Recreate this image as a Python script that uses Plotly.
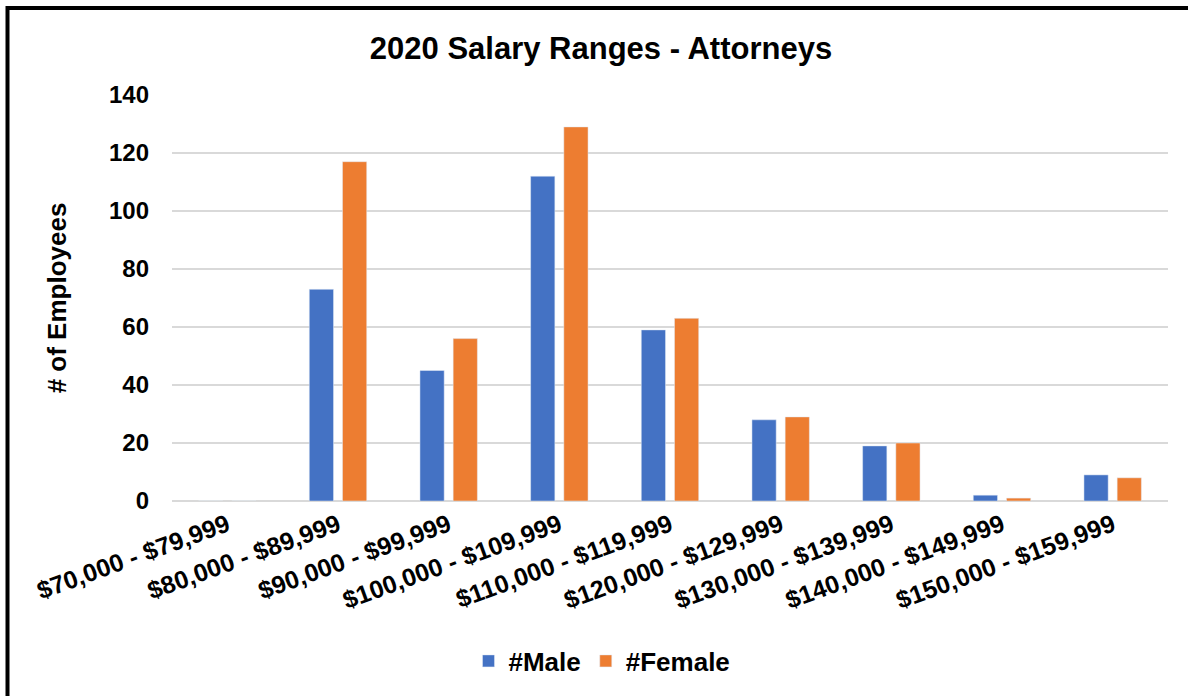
import plotly.graph_objects as go

categories = ["$70,000 - $79,999", "$80,000 - $89,999", "$90,000 - $99,999",
              "$100,000 - $109,999", "$110,000 - $119,999", "$120,000 - $129,999",
              "$130,000 - $139,999", "$140,000 - $149,999", "$150,000 - $159,999"]
male = [0, 73, 45, 112, 59, 28, 19, 2, 9]
female = [0, 117, 56, 129, 63, 29, 20, 1, 8]

W, H = 1188, 696
L, R, T, B = 172, 20, 95, 195
pw, ph = W - L - R, H - T - B

def px(x):
    return (x - L) / pw

def py(y):
    return (H - B - y) / ph

font = "Liberation Sans, Arial, sans-serif"
bold = dict(family=font, weight="bold", color="black")

fig = go.Figure()
fig.add_trace(go.Bar(x=categories, y=male, name="#Male", marker_color="#4472C4"))
fig.add_trace(go.Bar(x=categories, y=female, name="#Female", marker_color="#ED7D31"))

fig.update_layout(
    width=W, height=H,
    margin=dict(l=L, r=R, t=T, b=B),
    paper_bgcolor="white", plot_bgcolor="white",
    barmode="group", bargap=0.40, bargroupgap=0.27,
    font=dict(family=font, color="black"),
    title=dict(text="2020 Salary Ranges - Attorneys", x=601 / W, xanchor="center",
               xref="container", y=1 - 48 / H, yref="container", yanchor="middle",
               font=dict(size=31, **bold)),
    legend=dict(orientation="h", x=px(602), xanchor="center",
                y=py(661), yanchor="middle",
                font=dict(size=26, **bold), traceorder="normal"),
    showlegend=True,
)
fig.update_yaxes(range=[0, 140], dtick=20, showgrid=True, gridcolor="#d9d9d9", gridwidth=2,
                 zeroline=True, zerolinecolor="#d9d9d9", zerolinewidth=2,
                 showline=False, ticks="", ticklabelstandoff=22,
                 tickfont=dict(size=24, **bold),
                 title=dict(text="# of Employees", font=dict(size=26, **bold), standoff=34))
fig.update_xaxes(tickangle=-20, tickfont=dict(size=25, **bold), showline=False, ticks="",
                 ticklabelstandoff=4)

# outer frame (top and left edges visible)
fig.add_shape(type="line", xref="paper", yref="paper", x0=px(6), x1=px(W + 5), y0=py(8), y1=py(8),
              line=dict(color="black", width=4))
fig.add_shape(type="line", xref="paper", yref="paper", x0=px(7.5), x1=px(7.5), y0=py(6), y1=py(H + 5),
              line=dict(color="black", width=4))

fig.write_html("out.html", config={"displayModeBar": False},
               post_script="document.body.style.margin='0';")
